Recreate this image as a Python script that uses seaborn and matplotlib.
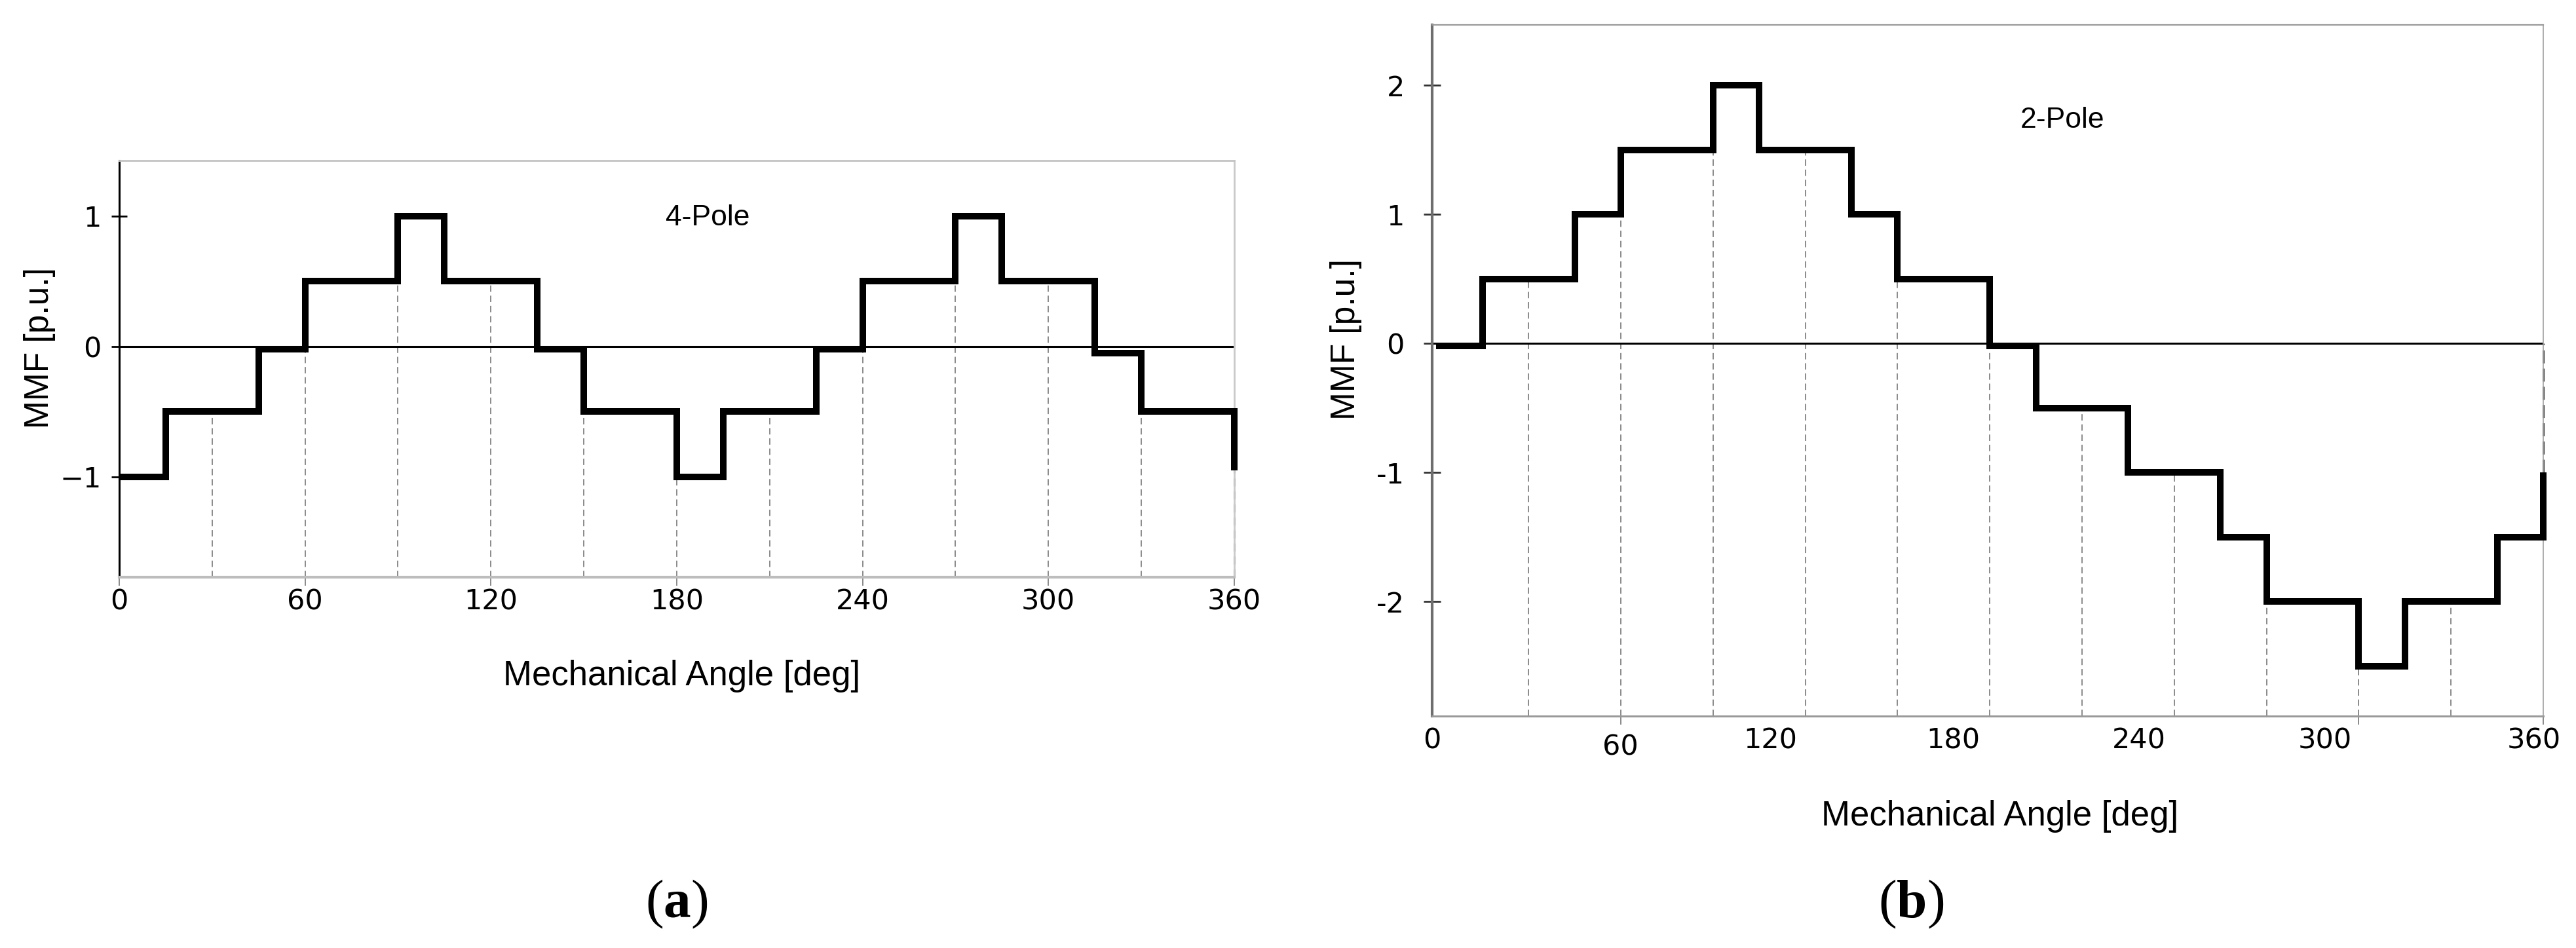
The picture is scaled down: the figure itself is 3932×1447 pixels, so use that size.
import numpy as np
import pandas as pd
import matplotlib.pyplot as plt
import seaborn as sns

sns.set_style("white")
plt.rcParams["font.family"] = ["Liberation Sans", "DejaVu Sans"]
plt.rcParams["text.color"] = "black"
plt.rcParams["axes.labelcolor"] = "black"
plt.rcParams["xtick.labelcolor"] = "black"
plt.rcParams["ytick.labelcolor"] = "black"
plt.rcParams["mathtext.fontset"] = "custom"
plt.rcParams["mathtext.rm"] = "Liberation Serif"
plt.rcParams["mathtext.bf"] = "Liberation Serif:bold"

# slot edges [deg] and MMF level of each slot
edges_4pole = [0, 15, 45, 60, 90, 105, 135, 150, 180, 195, 225, 240, 270, 285, 315, 330, 360]
mmf_4pole = [-1, -0.5, -0.02, 0.5, 1, 0.5, -0.02, -0.5, -1, -0.5, -0.02, 0.5, 1, 0.5, -0.05, -0.5]
end_4pole = -0.95

edges_2pole = [0, 15, 45, 60, 90, 105, 135, 150, 180, 195, 225, 255, 270, 300, 315, 345, 360]
mmf_2pole = [-0.02, 0.5, 1, 1.5, 2, 1.5, 1, 0.5, -0.02, -0.5, -1, -1.5, -2, -2.5, -2, -1.5]
end_2pole = -1.0

guide_angles = [30, 60, 90, 120, 150, 180, 210, 240, 270, 300, 330]
x_ticks = [0, 60, 120, 180, 240, 300, 360]
x_labels = ["0", "60", "120", "180", "240", "300", "360"]
# in panel (b) the tick labels sit off their grid lines in the source picture
x_label_pos_b = [-1.3, 59.9, 108.6, 168.0, 228.5, 289.0, 357.0]

y_ticks_a = [-1, 0, 1]
y_labels_a = ["\u22121", "0", "1"]
y_ticks_b = [-2, -1, 0, 1, 2]
y_labels_b = ["-2", "-1", "0", "1", "2"]


def step_frame(edges, levels, end):
    x = list(edges) + [edges[-1]]
    y = list(levels) + [levels[-1], end]
    return pd.DataFrame({"angle": x, "mmf": y})


def guide_tops(edges, levels, angles):
    lv = np.array(levels)
    left = lv[np.searchsorted(edges, angles, side="left") - 1]
    right = lv[np.clip(np.searchsorted(edges, angles, side="right") - 1, 0, len(lv) - 1)]
    return np.minimum(left, right)


def draw_panel(ax, edges, levels, end, ylim, label):
    ax.set_xlim(0, 360)
    ax.set_ylim(*ylim)
    tops = guide_tops(edges, levels, guide_angles)
    ax.vlines(guide_angles, ylim[0], tops, color="#8a8a8a", lw=1.4,
              linestyles=(0, (5, 3)), zorder=1)
    ax.axhline(0, color="black", lw=2.2, zorder=2)
    df = step_frame(edges, levels, end)
    sns.lineplot(data=df, x="angle", y="mmf", ax=ax, estimator=None, sort=False,
                 drawstyle="steps-post", color="black", linewidth=7.2,
                 solid_joinstyle="miter", solid_capstyle="butt", clip_on=False, zorder=3)
    ax.text(*label[1], label[0], transform=ax.transAxes, ha="center", va="center",
            fontsize=32)


fig = plt.figure(figsize=(39.32, 14.47), dpi=100)
ax_a = fig.add_axes([0.0463, 0.3912, 0.4328, 0.4395])
ax_b = fig.add_axes([0.5560, 0.2446, 0.4313, 0.7291])

# ---- (a) 4-pole
ylim_a = (-1.769, 1.427)
draw_panel(ax_a, edges_4pole, mmf_4pole, end_4pole, ylim_a, ("4-Pole", (0.528, 0.862)))
ax_a.vlines(360, ylim_a[0], end_4pole, color="#6a6a6a", lw=2.2,
            linestyles=(0, (4, 2.5)), zorder=2, clip_on=False)
ax_a.spines["left"].set(color="black", linewidth=2.2)
ax_a.spines["bottom"].set(color="#bdbdbd", linewidth=3)
ax_a.spines["top"].set(color="#c4c4c4", linewidth=2)
ax_a.spines["right"].set(color="#cacaca", linewidth=2)
ax_a.set_xticks(x_ticks, x_labels)
ax_a.set_yticks(y_ticks_a, y_labels_a)
ax_a.tick_params(axis="x", direction="out", length=9, width=1.4, color="#8a8a8a",
                 pad=3, labelsize=31, bottom=True)
ax_a.tick_params(axis="y", direction="inout", length=17, width=2, color="black",
                 pad=11, labelsize=31, left=True)
for t in ax_a.get_xticklabels() + ax_a.get_yticklabels():
    t.set_fontfamily("DejaVu Sans")
ax_a.set_xlabel("Mechanical Angle [deg]", fontsize=38, va="baseline")
ax_a.xaxis.set_label_coords(0.5047, -0.2594)
ax_a.set_ylabel("MMF [p.u.]", fontsize=37, va="baseline")
ax_a.yaxis.set_label_coords(-0.0635, 0.550)

# ---- (b) 2-pole
ylim_b = (-2.888, 2.467)
draw_panel(ax_b, edges_2pole, mmf_2pole, end_2pole, ylim_b, ("2-Pole", (0.567, 0.862)))
ax_b.vlines(360, end_2pole, 0, color="#333333", lw=2.2,
            linestyles=(0, (6.5, 2.6)), zorder=2, clip_on=False)
ax_b.spines["left"].set(color="#6e6e6e", linewidth=3)
ax_b.spines["bottom"].set(color="#9a9a9a", linewidth=2.2)
ax_b.spines["top"].set(color="#9a9a9a", linewidth=1.6)
ax_b.spines["right"].set(color="#a0a0a0", linewidth=1.2)
ax_b.set_xticks(x_label_pos_b, x_labels)
ax_b.set_xticks([60, 300, 360], minor=True)
ax_b.set_yticks(y_ticks_b, y_labels_b)
ax_b.tick_params(axis="x", which="major", length=0, pad=12, labelsize=31, bottom=True)
ax_b.tick_params(axis="x", which="minor", direction="out", length=9, width=1.4,
                 color="#8a8a8a", bottom=True)
ax_b.tick_params(axis="y", direction="inout", length=19, width=2, color="#333333",
                 pad=21, labelsize=31, left=True)
for t in ax_b.get_xticklabels() + ax_b.get_yticklabels():
    t.set_fontfamily("DejaVu Sans")
ax_b.get_xticklabels()[1].set_y(-0.009)
ax_b.set_xlabel("Mechanical Angle [deg]", fontsize=38, va="baseline")
ax_b.xaxis.set_label_coords(0.5106, -0.1583)
ax_b.set_ylabel("MMF [p.u.]", fontsize=37, va="baseline")
ax_b.yaxis.set_label_coords(-0.0697, 0.545)

# captions
fig.text(1033 / 3932, 1 - 1400 / 1447, r"$(\mathbf{a})$", ha="center", va="baseline", fontsize=60)
fig.text(2917 / 3932, 1 - 1400 / 1447, r"$(\mathbf{b})$", ha="center", va="baseline", fontsize=60)

fig.savefig("out.png", dpi=100, facecolor="white")
